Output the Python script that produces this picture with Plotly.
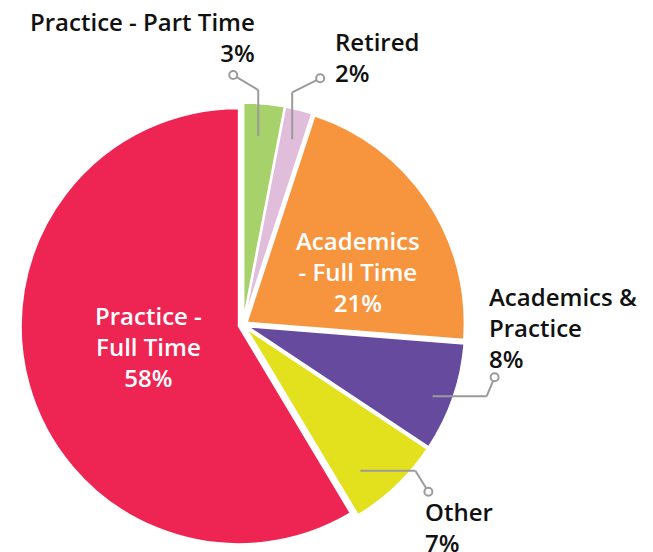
import math
import plotly.graph_objects as go

categories = ["Practice - Part Time", "Retired", "Academics - Full Time",
              "Academics & Practice", "Other", "Practice - Full Time"]
values = [3, 2, 21, 8, 7, 58]
label_text = ["Practice - Part Time<br>3%", "Retired<br>2%", "Academics<br>- Full Time<br>21%",
              "Academics &<br>Practice<br>8%", "Other<br>7%", "Practice -<br>Full Time<br>58%"]
colors = ["#A6D16B", "#E0BDDB", "#F7953F", "#654A9E", "#E3E01E", "#EE2553"]

# page body has an 8px margin, so the figure is drawn offset by (8, 8)
OFF = 8
W, H = 653 - OFF, 552 - OFF
CX, CY, R = 243, 325, 218          # screen pixels
PULL = 0.02
FONT = "Open Sans"
FS = 24

def px(x, y):
    return (x - OFF) / W, 1 - (y - OFF) / H

half = R * (1 + PULL)
x0, y1 = px(CX - half, CY - half)
x1, y0 = px(CX + half, CY + half)

fig = go.Figure(go.Pie(
    labels=categories, values=values, sort=False, direction="clockwise", rotation=0,
    marker=dict(colors=colors, line=dict(color="white", width=2)),
    pull=PULL, textinfo="none",
    hoverinfo="label+percent", domain=dict(x=[x0, x1], y=[y0, y1]), showlegend=False,
))

total = sum(values)
cum = 0
mids = []
for v in values:
    mids.append((cum + v / 2) / total * 2 * math.pi)
    cum += v

def polar(i, rf):
    a = mids[i]
    return CX + rf * R * math.sin(a), CY - rf * R * math.cos(a)

shapes, annos = [], []

# outside callouts: (anchor radius fraction, anchor nudge, elbow offset, circle offset, label offset, align)
callouts = {
    0: (0.88, (-3, 2), (0, -46), (-25, -15), (24, -38), "right"),
    1: (0.88, (1, 0), (0, -47), (28, -14), (13, -21), "left"),
    3: (0.93, (-2, 5), (54, 0), (8, -19), (-8, -50), "left"),
    4: (0.86, (-12, 10), (55, 0), (13, 21), (-5, 35), "left"),
}
for i, (rf, an, el, ci, lo, align) in callouts.items():
    ax, ay = polar(i, rf)
    ax, ay = ax + an[0], ay + an[1]
    ex, ey = ax + el[0], ay + el[1]
    cx, cy = ex + ci[0], ey + ci[1]
    for (a0, b0, a1, b1) in [(ax, ay, ex, ey), (ex, ey, cx, cy)]:
        p0, p1 = px(a0, b0), px(a1, b1)
        shapes.append(dict(type="line", xref="paper", yref="paper", x0=p0[0], y0=p0[1],
                           x1=p1[0], y1=p1[1], line=dict(color="#9B9B9B", width=2)))
    r = 4
    q0, q1 = px(cx - r, cy + r), px(cx + r, cy - r)
    shapes.append(dict(type="circle", xref="paper", yref="paper", x0=q0[0], y0=q0[1],
                       x1=q1[0], y1=q1[1], line=dict(color="#9B9B9B", width=2), fillcolor="white"))
    lx, ly = px(cx + lo[0], cy + lo[1])
    annos.append(dict(text=label_text[i], x=lx, y=ly, xref="paper", yref="paper",
                      xanchor=align, yanchor="middle", align=align, showarrow=False,
                      font=dict(family=FONT, size=FS, color="#111111", weight=600)))

# inside labels: (radius fraction, pixel nudge)
inside = {2: (0.58, (10, 17)), 5: (0.45, (0, -5))}
for i, (rf, nd) in inside.items():
    ax, ay = polar(i, rf)
    lx, ly = px(ax + nd[0], ay + nd[1])
    annos.append(dict(text=label_text[i], x=lx, y=ly, xref="paper", yref="paper",
                      xanchor="center", yanchor="middle", align="center", showarrow=False,
                      font=dict(family=FONT, size=FS, color="white", weight=600)))

fig.update_layout(width=W, height=H, margin=dict(l=0, r=0, t=0, b=0),
                  paper_bgcolor="white", plot_bgcolor="white",
                  shapes=shapes, annotations=annos)
fig.write_html("out.html")
